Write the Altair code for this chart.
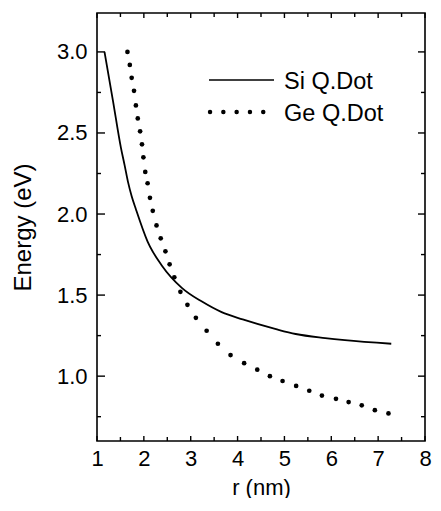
import altair as alt
import pandas as pd

# ---- data ----
si_r = [1.16, 1.34, 1.51, 1.59, 1.66, 1.74, 1.83, 2.08, 2.39, 2.81, 3.24, 3.66, 4.11, 4.82, 5.24, 5.87, 6.29, 7.28]
si_e = [3.00, 2.70, 2.41, 2.30, 2.20, 2.11, 2.03, 1.83, 1.68, 1.545, 1.46, 1.395, 1.35, 1.29, 1.26, 1.235, 1.222, 1.20]

ge_r = [1.65, 1.70, 1.74, 1.79, 1.83, 1.87, 1.92, 1.96, 1.99, 2.03, 2.08, 2.13, 2.19, 2.27,
        2.36, 2.46, 2.55, 2.65, 2.78, 2.93, 3.11, 3.34, 3.58, 3.85, 4.14, 4.42, 4.69, 4.96,
        5.25, 5.53, 5.80, 6.10, 6.37, 6.65, 6.93, 7.22]
ge_e = [3.00, 2.92, 2.84, 2.76, 2.67, 2.59, 2.51, 2.43, 2.35, 2.26, 2.19, 2.10, 2.02, 1.93,
        1.85, 1.77, 1.69, 1.61, 1.52, 1.44, 1.36, 1.28, 1.20, 1.13, 1.08, 1.04, 1.00, 0.97,
        0.94, 0.91, 0.88, 0.86, 0.84, 0.82, 0.79, 0.77]

series_names = ["Si Q.Dot", "Ge Q.Dot"]
x_major = [1, 2, 3, 4, 5, 6, 7, 8]
x_minor = [1.5, 2.5, 3.5, 4.5, 5.5, 6.5, 7.5]
y_major = [1.0, 1.5, 2.0, 2.5, 3.0]
y_minor = [0.75, 1.25, 1.75, 2.25, 2.75]

W, H = 328, 428
FONT = "Liberation Sans"
LFS = 22

xscale = alt.Scale(domain=[1, 8], nice=False, zero=False)
yscale = alt.Scale(domain=[0.6, 3.24], nice=False, zero=False)

x_axis = alt.Axis(values=x_major, format="d", ticks=False, tickSize=0, domain=False, grid=False,
                  labelFont=FONT, labelFontSize=LFS, labelColor="black", labelPadding=7,
                  labelFlush=False, labelOverlap=False,
                  title="r (nm)", titleFont=FONT, titleFontSize=22, titleFontWeight="normal",
                  titleColor="black", titlePadding=8)
y_axis = alt.Axis(values=y_major, format=".1f", ticks=False, tickSize=0, domain=False, grid=False,
                  labelFont=FONT, labelFontSize=LFS, labelColor="black", labelPadding=10,
                  labelFlush=False, labelOverlap=False,
                  title="Energy (eV)", titleFont=FONT, titleFontSize=24, titleFontWeight="normal",
                  titleColor="black", titlePadding=21)

si_df = pd.DataFrame({"r": si_r, "E": si_e})
ge_df = pd.DataFrame({"r": ge_r, "E": ge_e})

X = lambda: alt.X("r:Q", scale=xscale, axis=x_axis)
Y = lambda: alt.Y("E:Q", scale=yscale, axis=y_axis)

si = alt.Chart(si_df).mark_line(color="black", strokeWidth=1.8, interpolate="monotone").encode(x=X(), y=Y())
ge = alt.Chart(ge_df).mark_circle(color="black", size=22, opacity=1).encode(x=X(), y=Y())

def yticks(vals, x0, x1):
    return alt.Chart(pd.DataFrame({"E": vals})).mark_rule(color="black", strokeWidth=1.4).encode(
        y=Y(), x=alt.value(x0), x2=alt.value(x1))

def xticks(vals, y0, y1):
    return alt.Chart(pd.DataFrame({"r": vals})).mark_rule(color="black", strokeWidth=1.4).encode(
        x=X(), y=alt.value(y0), y2=alt.value(y1))

ticks = [
    yticks(y_major, 0, 8), yticks(y_minor, 0, 4),
    yticks(y_major, W, W - 7), yticks(y_minor, W, W - 4),
    xticks(x_major, H, H - 5), xticks(x_minor, H, H - 4),
    xticks(x_major, 0, 5), xticks(x_minor, 0, 4),
]

leg_src = pd.DataFrame({"name": series_names})
leg_line = alt.Chart(leg_src.iloc[[0]]).mark_rule(color="black", strokeWidth=1.5).encode(
    x=alt.value(112), x2=alt.value(177), y=alt.value(67))
leg_dots = alt.Chart(leg_src.iloc[[1]]).mark_rule(color="black", strokeWidth=4.4, strokeCap="round",
                                                  strokeDash=[0.1, 13.2]).encode(
    x=alt.value(113), x2=alt.value(167), y=alt.value(99))
leg_t1 = alt.Chart(leg_src.iloc[[0]]).mark_text(align="left", baseline="middle", font=FONT,
                                                fontSize=23.5, color="black").encode(
    text="name:N", x=alt.value(187), y=alt.value(69))
leg_t2 = alt.Chart(leg_src.iloc[[1]]).mark_text(align="left", baseline="middle", font=FONT,
                                                fontSize=23.5, color="black").encode(
    text="name:N", x=alt.value(187), y=alt.value(101))

chart = alt.layer(si, ge, *ticks, leg_line, leg_dots, leg_t1, leg_t2).properties(
    width=W, height=H, background="white",
    padding={"left": 3, "top": 4, "right": 0, "bottom": 0},
).configure_view(stroke="black", strokeWidth=1.6)

chart.save("out.html", embed_options={"renderer": "svg", "actions": False})
